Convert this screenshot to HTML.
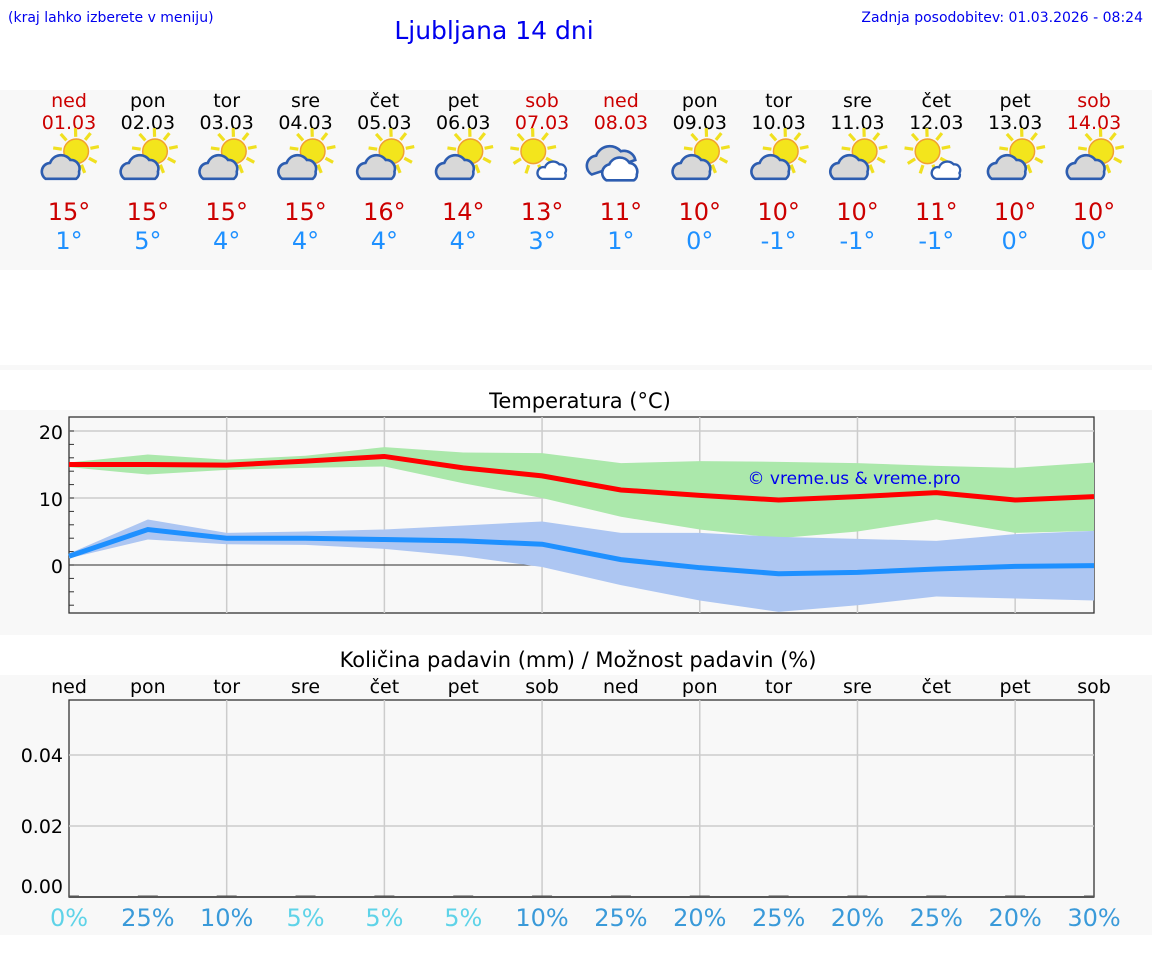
<!DOCTYPE html>
<html><head><meta charset="utf-8"><style>
body{margin:0;background:#fff;font-family:"DejaVu Sans","Liberation Sans",sans-serif;}
svg{display:block}
</style></head><body>
<svg id="s" width="1152" height="975" xmlns="http://www.w3.org/2000/svg" font-family="DejaVu Sans, Liberation Sans, sans-serif">
<rect x="0" y="90" width="1152" height="180" fill="#f8f8f8"/>
<rect x="0" y="365" width="1152" height="5" fill="#f8f8f8"/>
<rect x="0" y="410" width="1152" height="225" fill="#f8f8f8"/>
<rect x="0" y="675" width="1152" height="260" fill="#f8f8f8"/>
<text x="8" y="22" font-size="14" fill="#0000ee">(kraj lahko izberete v meniju)</text>
<text x="494" y="39" font-size="25" fill="#0000ee" text-anchor="middle">Ljubljana 14 dni</text>
<text x="1143" y="22" font-size="14" fill="#0000ee" text-anchor="end">Zadnja posodobitev: 01.03.2026 - 08:24</text>
<text x="580" y="408" font-size="21" text-anchor="middle" fill="#000">Temperatura (°C)</text>
<text x="578" y="667" font-size="21" text-anchor="middle" fill="#000">Količina padavin (mm) / Možnost padavin (%)</text>
<g id="g"></g>
</svg>
<script>
const days=["ned","pon","tor","sre","čet","pet","sob","ned","pon","tor","sre","čet","pet","sob"];
const dates=["01.03","02.03","03.03","04.03","05.03","06.03","07.03","08.03","09.03","10.03","11.03","12.03","13.03","14.03"];
const hiLabels=[15,15,15,15,16,14,13,11,10,10,10,11,10,10];
const loLabels=[1,5,4,4,4,4,3,1,0,-1,-1,-1,0,0];
const icons=["p","p","p","p","p","p","s","c","p","p","p","s","p","p"];
const hiT=[15,15,14.9,15.5,16.2,14.5,13.3,11.2,10.4,9.7,10.2,10.8,9.7,10.2];
const hiMax=[15.3,16.5,15.7,16.3,17.6,16.8,16.7,15.2,15.5,15.4,15.2,14.8,14.5,15.3];
const hiMin=[14.6,13.5,14.2,14.5,14.7,12.2,10,7.2,5.3,4,5,6.8,4.8,5.1];
const loT=[1.3,5.3,4,4,3.8,3.6,3.1,0.8,-0.4,-1.3,-1.1,-0.6,-0.2,-0.1];
const loMax=[1.7,6.8,4.8,5,5.3,5.9,6.5,4.8,4.8,4.2,3.9,3.6,4.6,5.1];
const loMin=[1,3.8,3.1,3,2.4,1.3,-0.3,-3,-5.3,-7,-6,-4.7,-5,-5.3];
const precip=[0,0,0,0,0,0,0,0,0,0,0,0,0,0];
const chance=[0,25,10,5,5,5,10,25,20,25,20,25,20,30];
const tTicks=[0,10,20];
const pTicks=[0,0.02,0.04];

const NS="http://www.w3.org/2000/svg",G=document.getElementById("g");
function el(t,a,p){const e=document.createElementNS(NS,t);for(const k in a)e.setAttribute(k,a[k]);(p||G).appendChild(e);return e;}
const X0=69,X1=1094;
const xs=i=>X0+i*(X1-X0)/13;
const yT=v=>565-v*6.7;
const yP=v=>897-v*3550;
const red=i=>days[i]==="ned"||days[i]==="sob";

function icon(cx,cy,type){
 const g=el("g",{transform:`translate(${cx},${cy}) scale(1.45) translate(${-cx},${-cy})`});
 
 
 if(type!=="c"){
  const sx=type==="s"?cx-4:cx+7, sy=cy-6;
  for(let k=0;k<9;k++){const a=k*Math.PI/4.5-1.6;el("line",{x1:sx+Math.cos(a)*10,y1:sy+Math.sin(a)*10,x2:sx+Math.cos(a)*16,y2:sy+Math.sin(a)*16,stroke:"#f0e020","stroke-width":2.2},g);}
  el("circle",{cx:sx,cy:sy,r:8.5,fill:"#f3e51c",stroke:"#f0a030","stroke-width":1},g);
 }
 if(type==="p"){
  const p=`M${cx-14},${cy+13} a6,6 0 0 1 3,-11 a8,8 0 0 1 14,-2 a6,6 0 0 1 6,8 a5,5 0 0 1 -2,5 z`;
  el("path",{d:p,fill:"#d8d8d8",stroke:"#2d5db0","stroke-width":1.8},g);
 } else if(type==="s"){
  el("path",{d:`M${cx+2},${cy+13} a4,4 0 0 1 2,-8 a6,6 0 0 1 10,-2 a4,4 0 0 1 4,6 a3,3 0 0 1 -1,4 z`,fill:"#fff",stroke:"#2d5db0","stroke-width":1.6},g);
 } else {
  el("path",{d:`M${cx-18},${cy+10} a7,7 0 0 1 3,-13 a10,10 0 0 1 17,-3 a8,8 0 0 1 10,6 z`,fill:"#d8d8d8",stroke:"#2d5db0","stroke-width":1.8},g);
  el("path",{d:`M${cx-8},${cy+14} a6,6 0 0 1 2,-11 a8,8 0 0 1 14,-1 a6,6 0 0 1 5,8 a4,4 0 0 1 -2,4 z`,fill:"#fff",stroke:"#2d5db0","stroke-width":1.8},g);
 }
}

for(let i=0;i<14;i++){
 const x=i===13?1094:xs(i);
 let t=el("text",{x:x,y:107,"font-size":19,"text-anchor":"middle",fill:red(i)?"#cc0000":"#000"});t.textContent=days[i];
 
 t=el("text",{x:x,y:129,"font-size":19,"text-anchor":"middle",fill:red(i)?"#cc0000":"#000"});t.textContent=dates[i];
 
 icon(x-3,160,icons[i]);
 t=el("text",{x:x,y:220,"font-size":24,"text-anchor":"middle",fill:"#cc0000"});t.textContent=hiLabels[i]+"°";
 
 t=el("text",{x:x,y:249,"font-size":24,"text-anchor":"middle",fill:"#1e90ff"});t.textContent=loLabels[i]+"°";
 
}

// temperature chart
el("rect",{x:X0,y:417,width:X1-X0,height:196,fill:"#f8f8f8",stroke:"#333","stroke-width":1.3});
for(let i=2;i<14;i+=2){el("line",{x1:xs(i),x2:xs(i),y1:417,y2:613,stroke:"#ccc","stroke-width":1.5});}
tTicks.forEach(v=>{
 el("line",{x1:X0,x2:X1,y1:yT(v),y2:yT(v),stroke:v===0?"#555":"#ccc","stroke-width":v===0?1.2:1.5});
 const t=el("text",{x:63,y:yT(v)+8,"font-size":19,"text-anchor":"end",fill:"#000"});t.textContent=v;
 
});
for(let v=-6;v<=20;v+=2){el("line",{x1:X0,x2:X0+5,y1:yT(v),y2:yT(v),stroke:"#333","stroke-width":1});}
function band(a,b,c,name){
 let d="M"+a.map((v,i)=>xs(i)+","+yT(v)).join("L");
 d+="L"+b.map((v,i)=>xs(i)+","+yT(v)).reverse().join("L")+"Z";
 const p=el("path",{d:d,fill:c});
}
function line(a,c,name){
 const p=el("polyline",{points:a.map((v,i)=>xs(i)+","+yT(v)).join(" "),fill:"none",stroke:c,"stroke-width":5});
 
}
band(hiMax,hiMin,"#abe8ab","max-temp-range");
band(loMax,loMin,"#adc6f2","min-temp-range");
line(hiT,"#ff0000","max-temp-line");
line(loT,"#1e90ff","min-temp-line");
let w=el("text",{x:854,y:484,"font-size":17,"text-anchor":"middle",fill:"#0000ee"});w.textContent="© vreme.us & vreme.pro";


// precip chart
el("rect",{x:X0,y:700,width:X1-X0,height:197,fill:"#f8f8f8",stroke:"#333","stroke-width":1.3});
for(let i=2;i<14;i+=2){el("line",{x1:xs(i),x2:xs(i),y1:700,y2:897,stroke:"#ccc","stroke-width":1.5});}
pTicks.forEach(v=>{
 el("line",{x1:X0,x2:X1,y1:yP(v),y2:yP(v),stroke:"#ccc","stroke-width":1.5});
 const t=el("text",{x:63,y:yP(v)+7-(v===0?11:0),"font-size":19,"text-anchor":"end",fill:"#000"});t.textContent=v.toFixed(2);
 
});
el("line",{x1:X0,x2:X1,y1:897,y2:897,stroke:"#333","stroke-width":1.5});
for(let i=0;i<14;i++){
 const x=xs(i);
 const x1=Math.max(X0,x-10),x2=Math.min(X1,x+10);
 const r=el("rect",{x:x1,y:yP(precip[i])-1.5,width:x2-x1,height:1.5+(897-yP(precip[i])),fill:"#555"});
 
 let t=el("text",{x:x,y:693,"font-size":19,"text-anchor":"middle",fill:"#000"});t.textContent=days[i];
 
 t=el("text",{x:x,y:926,"font-size":24,"text-anchor":"middle",fill:chance[i]<=5?"#5fd3e8":"#3a9ad9"});t.textContent=chance[i]+"%";
 
}
</script>
</body></html>
